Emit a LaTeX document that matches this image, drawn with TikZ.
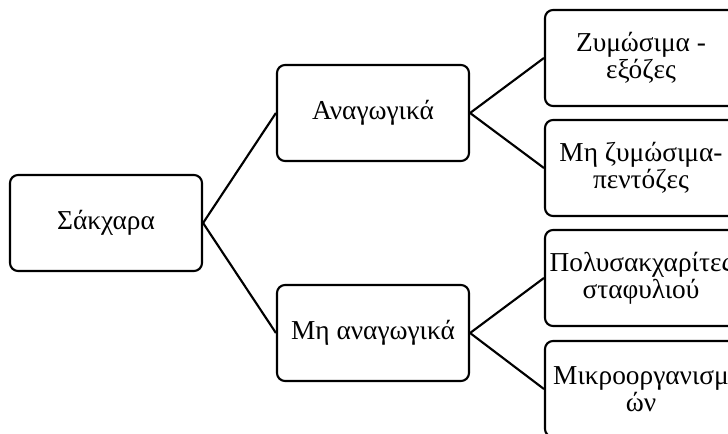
\documentclass[tikz,border=0pt]{standalone}
\usepackage{fontspec}
\setmainfont{Liberation Serif}
\usetikzlibrary{positioning}

\tikzset{
  box/.style={draw, line width=1.6pt, rounded corners=6pt,
    minimum width=144pt, minimum height=72pt, inner sep=0pt,
    align=center, font=\fontsize{20.5}{20.5}\selectfont},
  link/.style={line width=1.6pt}
}

\begin{document}
\begin{tikzpicture}[x=0.75pt, y=-0.75pt]
\useasboundingbox (0,0) rectangle (728,434);
%% πρώτο επίπεδο
\node[box] (sakx) at (106,223) {Σάκχαρα};
%% δεύτερο επίπεδο
\node[box] (anag) at (373,113) {Αναγωγικά};
\node[box] (mhanag) at (373,333) {Μη αναγωγικά};
%% τρίτο επίπεδο
\node[box] (zym) at (641,58) {Ζυμώσιμα -\\εξόζες};
\node[box] (mhzym) at (641,168) {Μη ζυμώσιμα-\\πεντόζες};
\node[box] (poly) at (641,278) {Πολυσακχαρίτες\\σταφυλιού};
\node[box] (mikro) at (641,389) {Μικροοργανισμ\\ών};
%% γραμμές
\draw[link] (sakx.east) -- (anag.west);
\draw[link] (sakx.east) -- (mhanag.west);
\draw[link] (anag.east) -- (zym.west);
\draw[link] (anag.east) -- (mhzym.west);
\draw[link] (mhanag.east) -- (poly.west);
\draw[link] (mhanag.east) -- (mikro.west);
\end{tikzpicture}
\end{document}
